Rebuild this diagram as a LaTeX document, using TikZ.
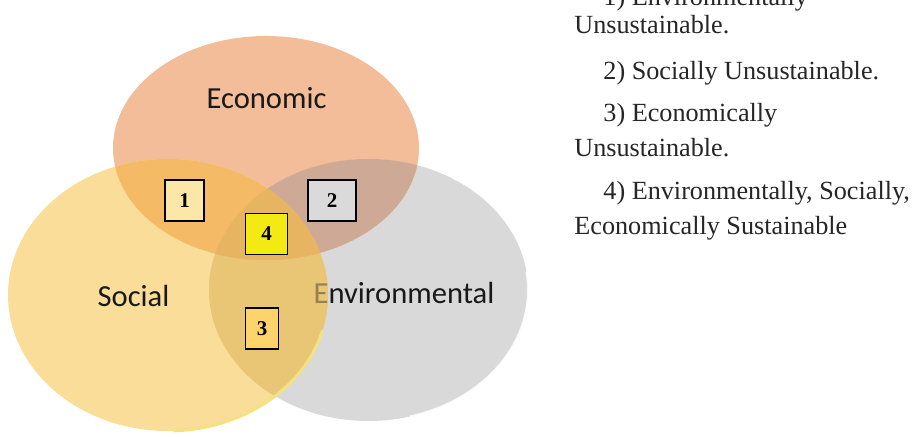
\documentclass[tikz,border=0pt]{standalone}
\usepackage{fontspec}
\setmainfont{Liberation Serif}
\newfontfamily\venn{Carlito}
\definecolor{ecocol}{HTML}{F2BD98}
\definecolor{soccol}{HTML}{F9DD98}
\definecolor{envcol}{HTML}{D9D9D9}
\definecolor{ecosoc}{HTML}{F4BA66}
\definecolor{ecoenv}{HTML}{CEAA96}
\definecolor{socenv}{HTML}{E9C676}
\definecolor{allcol}{HTML}{E7B562}
\definecolor{rimcol}{HTML}{F4E27C}
\definecolor{boxa}{HTML}{FCE6A8}
\definecolor{boxb}{HTML}{DADADA}
\definecolor{boxc}{HTML}{FDD46C}
\definecolor{boxd}{HTML}{F2EA12}
\newcommand{\ecoshape}{(266,148) ellipse [x radius=153,y radius=112]}
\newcommand{\socshape}{(168,295) ellipse [x radius=160,y radius=136]}
\newcommand{\envshape}{(368.5,290) ellipse [x radius=159.5,y radius=131]}
\tikzset{
  numbox/.style={draw,line width=0.7pt,inner sep=0pt,minimum height=20.5pt,
    font=\fontsize{10.5}{12}\selectfont\bfseries},
  circlabel/.style={font=\venn\fontsize{15.3}{18}\selectfont,text=black!90},
  legend/.style={anchor=base west,inner sep=0pt,font=\fontsize{13.1}{16}\selectfont,text=black!85}
}

\begin{document}
\begin{tikzpicture}[x=0.5pt,y=-0.5pt]
  \useasboundingbox (0,0) rectangle (922,437);
  \fill[envcol] \envshape;
  \fill[ecocol] \ecoshape;
  \fill[soccol] \socshape;
  \begin{scope}
    \clip \socshape;
    \fill[socenv] \envshape;
  \end{scope}
  \begin{scope}
    \clip \ecoshape;
    \fill[ecoenv] \envshape;
    \fill[ecosoc] \socshape;
    \clip \socshape;
    \fill[allcol] \envshape;
  \end{scope}
  \node[circlabel] (eco) at (266.5,98) {Economic};
  \node[circlabel] (soc) at (133.5,296) {Social};
  \node[circlabel] (env) at (404,293) {Environmental};
  \begin{scope}
    \clip \socshape;
    \clip (0,265) rectangle (922,437);
    \fill[socenv,opacity=0.6] \envshape;
  \end{scope}
  \draw[rimcol,line width=1.4pt] (168,295) ++(15:160 and 136) arc[start angle=15,end angle=88,x radius=160,y radius=136];
  \draw[white,line width=1pt,opacity=0.85] (368.5,290) ++(-8:159.5 and 131) arc[start angle=-8,end angle=75,x radius=159.5,y radius=131];
  \foreach \n/\x/\y/\w/\c in {1/184.5/200.5/19.5pt/boxa, 2/332/200.5/24pt/boxb,
      3/262/328.5/16.5pt/boxc, 4/266.5/234/21pt/boxd}
    \node[numbox,fill=\c,minimum width=\w] (b\n) at (\x,\y) {\n};
  \foreach \x/\y/\t [count=\i] in {603/6/{1) Environmentally}, 574/34/{Unsustainable.},
      603/80/{2) Socially Unsustainable.}, 603/122/{3) Economically},
      574/157/{Unsustainable.}, 603/200/{4) Environmentally, Socially,},
      574/235/{Economically Sustainable}}
    \node[legend] (t\i) at (\x,\y) {\t};
\end{tikzpicture}
\end{document}
